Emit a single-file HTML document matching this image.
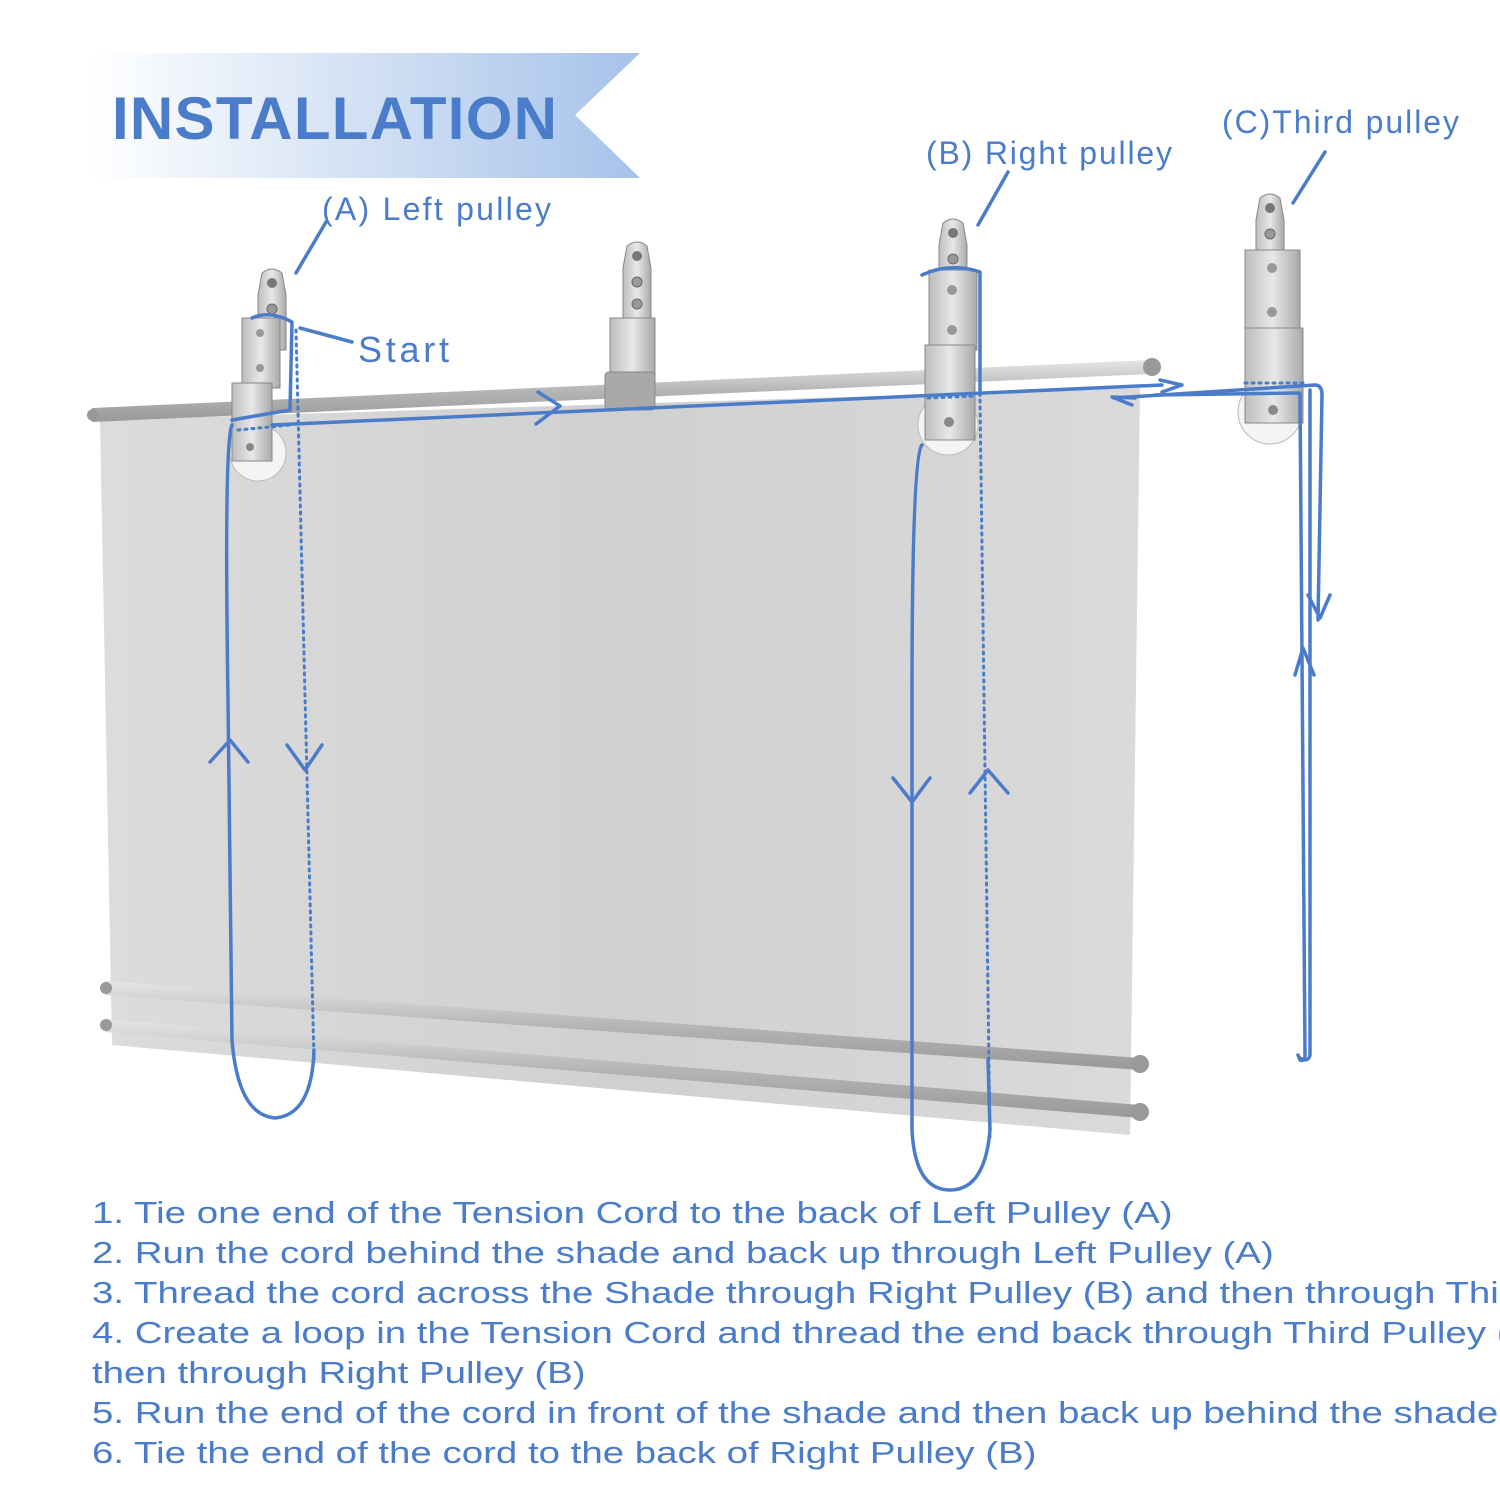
<!DOCTYPE html>
<html><head><meta charset="utf-8"><style>
html,body{margin:0;background:#fff;width:1500px;height:1500px;overflow:hidden;font-family:"Liberation Sans",sans-serif}
#w{position:relative;width:1500px;height:1500px;overflow:hidden}
svg{position:absolute;left:0;top:0}
.t{position:absolute;left:92px;color:#4a7cc9;font-size:31px;white-space:nowrap;transform:scaleX(1.24);transform-origin:0 0}
</style></head><body><div id="w">
<svg width="1500" height="1500" viewBox="0 0 1500 1500">
<defs>
<linearGradient id="ban" x1="0" x2="1"><stop offset="0" stop-color="#fff"/><stop offset="1" stop-color="#a6c2ea"/></linearGradient>
<linearGradient id="sh" x1="0" x2="1"><stop offset="0" stop-color="#dcdcdc"/><stop offset="0.5" stop-color="#d0d0d0"/><stop offset="1" stop-color="#dadada"/></linearGradient>
<linearGradient id="rod" x1="0" y1="0" x2="0" y2="1"><stop offset="0" stop-color="#e6e6e6"/><stop offset="0.5" stop-color="#b5b5b5"/><stop offset="1" stop-color="#999"/></linearGradient>
<linearGradient id="met" x1="0" x2="1"><stop offset="0" stop-color="#bdbdbd"/><stop offset="0.5" stop-color="#e8e8e8"/><stop offset="1" stop-color="#a9a9a9"/></linearGradient>
<g id="pl">
<path d="M-14 0 L-10 -22 Q0 -30 10 -22 L14 0 L14 55 L-14 55 Z" fill="url(#met)" stroke="#888" stroke-width="1"/>
<circle cx="0" cy="-12" r="5" fill="#777"/>
<circle cx="0" cy="14" r="5" fill="#999" stroke="#666"/>
<circle cx="0" cy="36" r="5" fill="#999" stroke="#666"/>
</g>
</defs>
<polygon points="90,53 640,53 575,115 640,178 90,178" fill="url(#ban)"/>
<text x="112" y="139" font-size="60" font-weight="bold" fill="#4a7cc9" font-family="Liberation Sans,sans-serif" textLength="445">INSTALLATION</text>
<polygon points="100,420 1140,388 1130,1135 112,1045" fill="url(#sh)"/>
<polygon points="105,981 1140,1058 1140,1070 105,995" fill="url(#rod)"/>
<polygon points="105,1019 1140,1105 1140,1118 105,1032" fill="url(#rod)"/>
<circle cx="1140" cy="1064" r="9" fill="#999"/><circle cx="1140" cy="1112" r="9" fill="#999"/>
<circle cx="106" cy="988" r="6" fill="#999"/><circle cx="106" cy="1025" r="6" fill="#999"/>
<polygon points="92,408 1150,360 1150,374 92,422" fill="url(#rod)"/>
<circle cx="1152" cy="367" r="9" fill="#999"/><circle cx="93" cy="415" r="6" fill="#999"/>
<g transform="translate(272,295)"><use href="#pl"/></g>
<rect x="242" y="318" width="38" height="70" fill="url(#met)" stroke="#888"/>
<circle cx="260" cy="333" r="4" fill="#999"/><circle cx="260" cy="368" r="4" fill="#999"/>
<circle cx="258" cy="453" r="28" fill="#f4f4f4" stroke="#bbb"/>
<rect x="232" y="383" width="40" height="78" fill="url(#met)" stroke="#888"/>
<circle cx="250" cy="447" r="4" fill="#888"/>
<g transform="translate(637,268)"><use href="#pl"/></g>
<rect x="610" y="318" width="45" height="60" fill="url(#met)" stroke="#888"/>
<rect x="605" y="372" width="50" height="38" rx="4" fill="#a9a9a9" stroke="#888"/>
<g transform="translate(953,245)"><use href="#pl"/></g>
<rect x="929" y="270" width="48" height="80" fill="url(#met)" stroke="#888"/>
<circle cx="952" cy="290" r="5" fill="#999"/><circle cx="952" cy="330" r="5" fill="#999"/>
<circle cx="948" cy="425" r="30" fill="#f4f4f4" stroke="#bbb"/>
<rect x="925" y="345" width="50" height="95" fill="url(#met)" stroke="#888"/>
<circle cx="949" cy="422" r="5" fill="#888"/>
<g transform="translate(1270,220)"><use href="#pl"/></g>
<rect x="1245" y="250" width="55" height="80" fill="url(#met)" stroke="#888"/>
<circle cx="1272" cy="268" r="5" fill="#999"/><circle cx="1272" cy="312" r="5" fill="#999"/>
<circle cx="1270" cy="412" r="32" fill="#f4f4f4" stroke="#bbb"/>
<rect x="1245" y="328" width="58" height="95" fill="url(#met)" stroke="#888"/>
<circle cx="1273" cy="410" r="5" fill="#888"/>
<g fill="none" stroke="#4a7cc9" stroke-width="3.5" stroke-linecap="round" stroke-linejoin="round">
<path d="M252 318 Q270 310 292 322 L290 410 L232 420"/>
<path d="M232 425 Q224 440 228 700 L232 1040 Q238 1115 275 1118 Q312 1115 314 1050"/>
<path d="M272 425 L1162 385"/>
<path d="M538 392 L560 406 L536 424"/>
<path d="M1114 398 L1315 385 Q1322 385 1322 395 L1318 620"/>
<path d="M1300 395 L1305 1055 Q1305 1062 1300 1060 L1298 1055"/>
<path d="M1310 390 L1310 1055 Q1308 1063 1300 1058"/>
<path d="M1155 395 L1300 393"/>
<path d="M1135 398 L1112 397 L1132 405"/>
<path d="M1160 380 L1182 385 L1162 392"/>
<path d="M922 445 Q912 455 912 700 L912 1130 Q915 1190 950 1190 Q985 1190 990 1130 L988 1060"/>
<path d="M922 275 Q950 262 980 272 L980 395"/>
<path d="M210 762 L230 740 L248 762"/>
<path d="M287 745 L305 770 L322 745"/>
<path d="M893 778 L912 802 L930 778"/>
<path d="M970 793 L988 770 L1008 793"/>
<path d="M1308 595 L1320 618 L1330 595"/>
<path d="M1295 675 L1303 648 L1314 675"/>
<path d="M296 273 L326 222"/>
<path d="M978 225 L1008 172"/>
<path d="M1293 203 L1325 152"/>
<path d="M300 328 L352 342"/>
</g>
<g fill="none" stroke="#4a7cc9" stroke-width="3" stroke-dasharray="2 5" stroke-linecap="round">
<path d="M238 430 L290 425"/>
<path d="M296 330 L314 1060"/>
<path d="M928 398 L975 396"/>
<path d="M980 400 L990 1140"/>
<path d="M1245 383 L1305 383"/>
</g>
<g font-family="Liberation Sans,sans-serif" font-size="32" fill="#4a7cc9">
<text x="322" y="220" textLength="229">(A) Left pulley</text>
<text x="926" y="164" textLength="246">(B) Right pulley</text>
<text x="1222" y="133" textLength="237">(C)Third pulley</text>
<text x="358" y="362" font-size="36" textLength="91">Start</text>
</g>
</svg>
<div class="t" style="top:1195px">1. Tie one end of the Tension Cord to the back of Left Pulley (A)</div>
<div class="t" style="top:1235px">2. Run the cord behind the shade and back up through Left Pulley (A)</div>
<div class="t" style="top:1275px">3. Thread the cord across the Shade through Right Pulley (B) and then through Thir</div>
<div class="t" style="top:1315px">4. Create a loop in the Tension Cord and thread the end back through Third Pulley (</div>
<div class="t" style="top:1355px">then through Right Pulley (B)</div>
<div class="t" style="top:1395px">5. Run the end of the cord in front of the shade and then back up behind the shade</div>
<div class="t" style="top:1435px">6. Tie the end of the cord to the back of Right Pulley (B)</div>
</div></body></html>
